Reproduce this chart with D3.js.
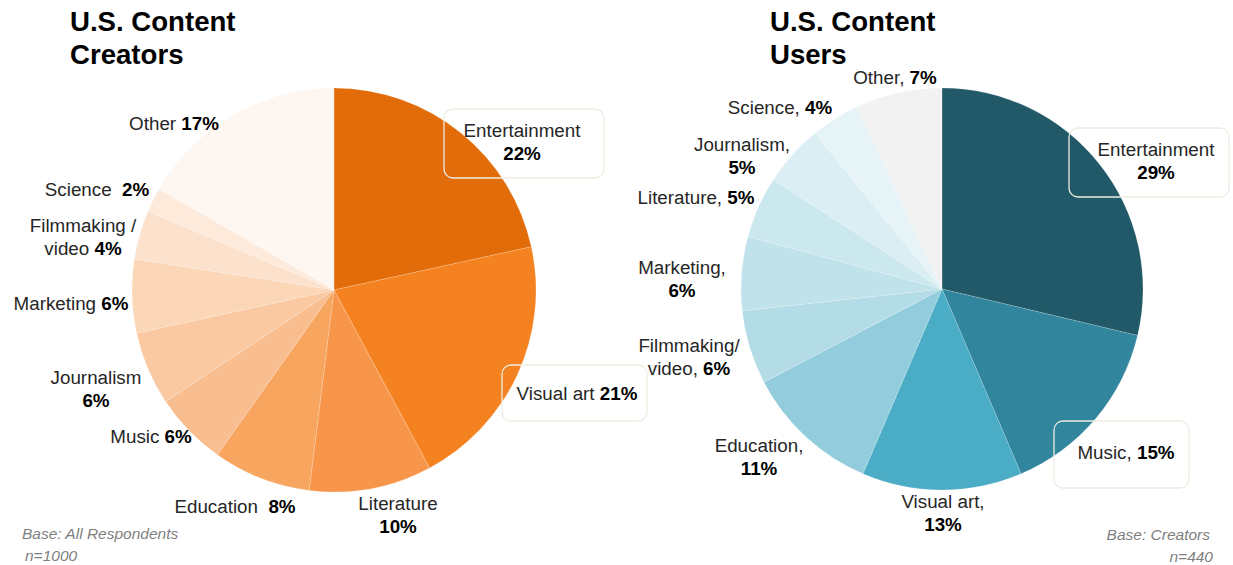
<!DOCTYPE html>
<html><head><meta charset="utf-8">
<script src="https://cdn.jsdelivr.net/npm/d3@7"></script>
<style>
body{margin:0;background:#fff;}
svg{display:block;}
text{font-family:"Liberation Sans",Arial,sans-serif;}
</style></head>
<body><svg id="c" width="1233" height="565"></svg>
<script>
// ---- data ----
const creatorCategories = ["Entertainment","Visual art","Literature","Education","Music","Journalism","Marketing","Filmmaking / video","Science","Other"];
const creatorValues = [22,21,10,8,6,6,6,4,2,17];
const creatorColors = ["#E36C0A","#F58220","#F7964A","#F7A55F","#F9BE90","#FAC9A2","#FBD6B7","#FCE2CC","#FDEADB","#FEF6F0"];

const userCategories = ["Entertainment","Music","Visual art","Education","Filmmaking/ video","Marketing","Literature","Journalism","Science","Other"];
const userValues = [29,15,13,11,6,6,5,5,4,7];
const userColors = ["#215968","#31859C","#4BACC6","#93CDDD","#B4DCE6","#C0E2EB","#CCE8EF","#DAEEF3","#E6F3F7","#F2F2F2"];

// label text lines: [regular, bold] per line
const creatorLabelLines = [
  [["Entertainment",""],["","22%"]],
  [["Visual art ","21%"]],
  [["Literature",""],["","10%"]],
  [["Education  ","8%"]],
  [["Music ","6%"]],
  [["Journalism",""],["","6%"]],
  [["Marketing ","6%"]],
  [["Filmmaking /",""],["video ","4%"]],
  [["Science  ","2%"]],
  [["Other ","17%"]]
];
const userLabelLines = [
  [["Entertainment",""],["","29%"]],
  [["Music, ","15%"]],
  [["Visual art,",""],["","13%"]],
  [["Education,",""],["","11%"]],
  [["Filmmaking/",""],["video, ","6%"]],
  [["Marketing,",""],["","6%"]],
  [["Literature, ","5%"]],
  [["Journalism,",""],["","5%"]],
  [["Science, ","4%"]],
  [["Other, ","7%"]]
];

// ---- layout (label centres relative to pie centre, first-line baseline) ----
const creatorLayout = {cx:334, cy:290, r:202, tx:70, title:["U.S. Content","Creators"],
  labels:[[188,-153],[243,110],[64,220],[-99,223],[-183,153],[-238,94],[-263,20],[-251,-58],[-237,-94],[-160,-160]],
  boxes:[[110,-181,160,69],[168,75,145,56],null,null,null,null,null,null,null,null]};
const userLayout = {cx:942, cy:289, r:201, tx:770, title:["U.S. Content","Users"],
  labels:[[214,-133],[184,170],[1,219],[-183,163],[-253,63],[-260,-15],[-246,-85],[-200,-138],[-162,-175],[-47,-205]],
  boxes:[[127,-161,160,69],[112,132,135,67],null,null,null,null,null,null,null,null]};

const svg = d3.select("#c");

function drawPie(values, colors, lines, L){
  const g = svg.append("g").attr("transform",`translate(${L.cx},${L.cy})`);
  const pie = d3.pie().sort(null).value(d=>d);
  const arc = d3.arc().innerRadius(0).outerRadius(L.r);
  g.selectAll("path.slice").data(pie(values)).join("path")
    .attr("class","slice")
    .attr("d",arc)
    .attr("fill",(d,i)=>colors[i])
    .attr("stroke","#fff").attr("stroke-width",0.5).attr("stroke-opacity",0.35);
  lines.forEach((ls,i)=>{
    const [lx,ly] = L.labels[i];
    const b = L.boxes[i];
    if(b){
      g.append("rect").attr("x",b[0]).attr("y",b[1]).attr("width",b[2]).attr("height",b[3])
       .attr("rx",9).attr("fill","none").attr("stroke","#EEECE1").attr("stroke-width",1.3);
    }
    ls.forEach((ln,j)=>{
      const t = g.append("text").attr("x",lx).attr("y",ly+j*22.5)
        .attr("text-anchor","middle").attr("font-size",18.8).attr("fill","#1a1a1a");
      if(ln[0]) t.append("tspan").text(ln[0]).attr("fill","#262626");
      if(ln[1]) t.append("tspan").text(ln[1]).attr("font-weight","bold").attr("fill","#000");
      t.attr("xml:space","preserve").style("white-space","pre");
    });
  });
  L.title.forEach((s,j)=>{
    svg.append("text").attr("x",L.tx).attr("y",31+j*33).attr("font-size",27.6)
      .attr("font-weight","bold").attr("fill","#000").text(s);
  });
}
drawPie(creatorValues, creatorColors, creatorLabelLines, creatorLayout);
drawPie(userValues, userColors, userLabelLines, userLayout);

// base notes
const note = (x,y,s,anchor)=>svg.append("text").attr("x",x).attr("y",y).attr("font-size",15.5)
  .attr("font-style","italic").attr("fill","#7F7F7F").attr("text-anchor",anchor).text(s);
note(22,539,"Base: All Respondents","start");
note(25,561,"n=1000","start");
note(1210,540,"Base: Creators","end");
note(1213,562,"n=440","end");
</script></body></html>
